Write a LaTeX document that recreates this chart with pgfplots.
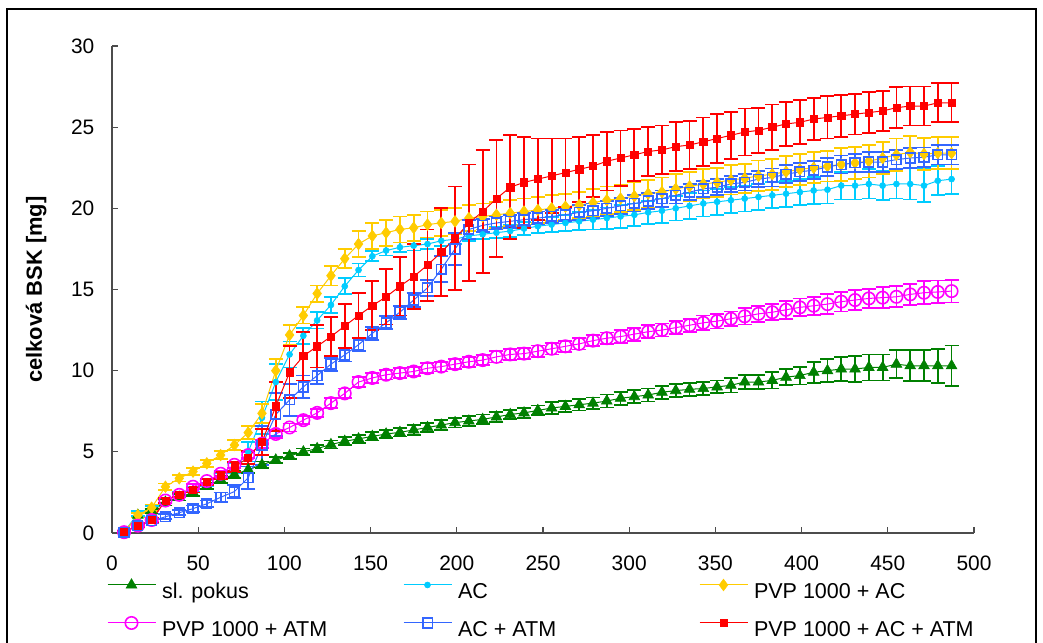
\documentclass[border=0pt]{standalone}
\usepackage{fontspec}
\setmainfont{Liberation Sans}
\usepackage{pgfplots}
\usepackage{pgfplotstable}
\pgfplotsset{compat=1.18}
\definecolor{cgreen}{RGB}{0,128,0}
\definecolor{ccyan}{RGB}{0,204,255}
\definecolor{cyellow}{RGB}{255,204,0}
\definecolor{cpink}{RGB}{255,0,255}
\definecolor{cblue}{RGB}{51,102,255}
\definecolor{cred}{RGB}{255,0,0}
\pgfplotstableread{
x y e
7 0.05 0.05
15 1.1 0.15
23 1.35 0.15
31 1.9 0.2
39 2.2 0.2
47 2.5 0.2
55 2.9 0.2
63 3.3 0.2
71 3.6 0.2
79 3.9 0.2
87 4.2 0.2
95 4.5 0.2
103 4.75 0.2
111 5.0 0.2
119 5.2 0.2
127 5.45 0.25
135 5.65 0.25
143 5.8 0.25
151 5.95 0.25
159 6.1 0.25
167 6.2 0.25
175 6.35 0.3
183 6.5 0.3
191 6.65 0.3
199 6.8 0.3
207 6.9 0.3
215 7.0 0.3
223 7.15 0.3
231 7.3 0.3
239 7.4 0.3
247 7.55 0.3
255 7.7 0.35
263 7.8 0.35
271 7.9 0.35
279 8.0 0.35
287 8.13 0.4
295 8.3 0.4
303 8.4 0.4
311 8.5 0.4
319 8.67 0.4
327 8.77 0.4
335 8.85 0.4
343 8.9 0.4
351 9.0 0.4
359 9.1 0.45
367 9.3 0.45
375 9.3 0.45
383 9.4 0.5
391 9.6 0.5
399 9.7 0.55
407 9.9 0.65
415 10.0 0.7
423 10.1 0.75
431 10.1 0.8
439 10.2 0.8
447 10.2 0.8
455 10.4 0.85
463 10.3 0.95
471 10.3 0.95
479 10.3 1.05
487 10.3 1.25
}\tgreen
\pgfplotstableread{
x y e
7 0.05 0.05
15 1.2 0.15
23 1.5 0.15
31 2.0 0.15
39 2.4 0.15
47 2.7 0.15
55 3.1 0.2
63 3.5 0.2
71 4.0 0.3
79 5.0 0.6
87 7.1 1.0
95 9.3 1.1
103 11.0 0.8
111 12.15 0.5
119 13.1 0.5
127 14.05 0.5
135 15.2 0.5
143 16.2 0.4
151 17.05 0.3
159 17.4 0.3
167 17.6 0.3
175 17.7 0.3
183 17.8 0.3
191 18.0 0.3
199 18.1 0.3
207 18.3 0.3
215 18.4 0.3
223 18.5 0.35
231 18.6 0.35
239 18.75 0.4
247 18.9 0.4
255 19.0 0.45
263 19.1 0.5
271 19.2 0.55
279 19.3 0.6
287 19.4 0.65
295 19.5 0.7
303 19.6 0.7
311 19.75 0.7
319 19.85 0.75
327 20.0 0.75
335 20.15 0.8
343 20.3 0.8
351 20.4 0.8
359 20.5 0.8
367 20.6 0.8
375 20.7 0.8
383 20.8 0.8
391 20.9 0.8
399 21.0 0.8
407 21.1 0.85
415 21.15 0.85
423 21.4 0.85
431 21.4 0.85
439 21.5 0.9
447 21.4 0.9
455 21.5 0.9
463 21.5 0.95
471 21.4 1.0
479 21.7 0.9
487 21.8 0.9
}\tcyan
\pgfplotstableread{
x y e
7 0.05 0.05
15 1.1 0.15
23 1.56 0.2
31 2.85 0.2
39 3.37 0.2
47 3.78 0.2
55 4.29 0.2
63 4.8 0.25
71 5.42 0.3
79 6.18 0.4
87 7.37 0.6
95 10.0 0.7
103 12.2 0.6
111 13.4 0.5
119 14.75 0.5
127 15.85 0.6
135 16.9 0.6
143 17.8 0.8
151 18.3 0.8
159 18.5 0.8
167 18.7 0.8
175 18.8 0.8
183 19.0 0.8
191 19.1 0.8
199 19.2 0.8
207 19.4 0.8
215 19.5 0.8
223 19.6 0.8
231 19.7 0.8
239 19.8 0.8
247 19.9 0.8
255 20.0 0.8
263 20.1 0.8
271 20.2 0.8
279 20.35 0.85
287 20.5 0.85
295 20.6 0.85
303 20.75 0.85
311 20.9 0.85
319 21.0 0.9
327 21.2 0.9
335 21.35 0.9
343 21.5 0.9
351 21.6 0.9
359 21.75 0.9
367 21.85 0.9
375 22.0 0.95
383 22.1 0.95
391 22.25 0.95
399 22.4 0.95
407 22.5 0.95
415 22.6 0.95
423 22.7 1.0
431 22.8 1.0
439 22.9 1.0
447 23.1 1.0
455 23.3 1.0
463 23.45 1.0
471 23.35 1.0
479 23.4 1.0
487 23.4 1.0
}\tyellow
\pgfplotstableread{
x y e
7 0.05 0.05
15 0.45 0.1
23 0.8 0.1
31 2.0 0.15
39 2.35 0.15
47 2.85 0.15
55 3.2 0.15
63 3.65 0.2
71 4.2 0.2
79 4.8 0.2
87 5.5 0.25
95 6.1 0.25
103 6.5 0.25
111 6.95 0.25
119 7.4 0.25
127 8.0 0.3
135 8.6 0.3
143 9.3 0.3
151 9.55 0.3
159 9.75 0.3
167 9.85 0.3
175 9.95 0.3
183 10.15 0.3
191 10.25 0.3
199 10.4 0.3
207 10.55 0.3
215 10.65 0.3
223 10.85 0.35
231 11.0 0.35
239 11.05 0.35
247 11.2 0.35
255 11.35 0.35
263 11.5 0.35
271 11.65 0.35
279 11.85 0.35
287 12.0 0.35
295 12.1 0.4
303 12.25 0.4
311 12.4 0.4
319 12.5 0.4
327 12.65 0.4
335 12.8 0.4
343 12.95 0.45
351 13.05 0.45
359 13.2 0.45
367 13.35 0.5
375 13.5 0.5
383 13.6 0.5
391 13.75 0.55
399 13.9 0.55
407 14.0 0.55
415 14.1 0.6
423 14.25 0.6
431 14.35 0.6
439 14.45 0.6
447 14.5 0.65
455 14.55 0.65
463 14.7 0.65
471 14.8 0.7
479 14.85 0.7
487 14.9 0.7
}\tpink
\pgfplotstableread{
x y e
7 0.05 0.05
15 0.45 0.1
23 0.75 0.15
31 1.0 0.15
39 1.25 0.15
47 1.5 0.2
55 1.8 0.2
63 2.2 0.3
71 2.55 0.4
79 3.4 0.7
87 5.4 1.2
95 7.3 1.3
103 8.2 1.0
111 9.0 0.7
119 9.7 0.5
127 10.4 0.4
135 10.97 0.4
143 11.6 0.4
151 12.3 0.4
159 12.95 0.4
167 13.6 0.4
175 14.35 0.45
183 15.1 0.5
191 16.25 0.8
199 17.5 1.0
207 18.7 0.6
215 18.95 0.4
223 19.1 0.4
231 19.2 0.4
239 19.3 0.4
247 19.4 0.4
255 19.5 0.4
263 19.6 0.4
271 19.75 0.45
279 19.85 0.45
287 20.0 0.45
295 20.15 0.5
303 20.3 0.5
311 20.45 0.5
319 20.6 0.5
327 20.8 0.5
335 21.0 0.5
343 21.2 0.5
351 21.3 0.5
359 21.5 0.5
367 21.6 0.5
375 21.8 0.5
383 21.9 0.55
391 22.1 0.55
399 22.25 0.55
407 22.35 0.55
415 22.55 0.55
423 22.7 0.55
431 22.8 0.55
439 22.85 0.6
447 22.85 0.6
455 23.0 0.6
463 23.1 0.6
471 23.15 0.6
479 23.3 0.6
487 23.3 0.6
}\tblue
\pgfplotstableread{
x y e
7 0.05 0.05
15 0.45 0.1
23 0.8 0.15
31 2.0 0.15
39 2.35 0.15
47 2.65 0.15
55 3.15 0.2
63 3.55 0.2
71 4.05 0.3
79 4.65 0.4
87 5.6 0.8
95 7.8 1.5
103 9.9 1.6
111 10.9 1.5
119 11.5 1.3
127 12.1 1.2
135 12.75 1.35
143 13.4 1.4
151 14.0 1.5
159 14.55 1.7
167 15.2 1.8
175 15.8 2.0
183 16.5 2.2
191 17.3 2.7
199 18.15 3.2
207 19.1 3.6
215 19.8 3.8
223 20.6 3.6
231 21.3 3.2
239 21.6 2.8
247 21.8 2.5
255 22.0 2.3
263 22.2 2.1
271 22.4 2.0
279 22.6 1.9
287 22.9 1.8
295 23.1 1.7
303 23.3 1.6
311 23.5 1.5
319 23.6 1.5
327 23.8 1.5
335 23.9 1.5
343 24.1 1.5
351 24.3 1.5
359 24.5 1.45
367 24.7 1.45
375 24.8 1.4
383 25.0 1.4
391 25.2 1.35
399 25.3 1.35
407 25.5 1.3
415 25.6 1.3
423 25.7 1.3
431 25.8 1.25
439 25.9 1.25
447 26.0 1.25
455 26.2 1.25
463 26.3 1.2
471 26.3 1.2
479 26.5 1.2
487 26.5 1.2
}\tred
\begin{document}
\begin{tikzpicture}
\path[use as bounding box] (0,0) rectangle (521.5bp,321.5bp);
\draw[black, line width=0.6bp] (3.5bp,-10bp) rectangle (518bp,317bp);
\begin{axis}[
  at={(56bp,55bp)}, anchor=south west,
  scale only axis, width=431bp, height=243.5bp,
  xmin=0, xmax=500, ymin=0, ymax=30,
  xtick={0,50,...,500}, ytick={0,5,...,30},
  axis lines*=left,
  axis line style={black!70, line width=0.6bp},
  tick align=inside,
  major tick length=3.2bp,
  major tick style={black!70, line width=0.6bp},
  minor tick num=0,
  font=\fontsize{10.5}{12}\selectfont,
  /pgf/number format/assume math mode=true,
  ticklabel style={font=\fontsize{10.5}{12}\selectfont},
  xticklabel style={yshift=-8bp},
  yticklabel style={xshift=-5.3bp},
  ylabel={\bfseries celková BSK [mg]},
  every axis y label/.style={at={(axis description cs:-0.088,0.5)}, rotate=90, anchor=center, font=\fontsize{11}{13}\selectfont},
  clip=false,
  legend columns=3,
  legend cell align=left,
  legend style={at={(axis description cs:-0.0058,-0.0940)}, anchor=north west, draw=none, fill=none, inner sep=0pt, outer sep=0pt,
     nodes={inner sep=0pt, outer sep=0pt, text height=8bp, text depth=2bp, font=\fontsize{10.8}{13}\selectfont},
     row sep=7bp, column sep=0pt},
  /tikz/every odd column/.style={column sep=3bp},
  legend image code/.code={\draw[mark repeat=2,mark phase=2, line width=0.5bp] plot coordinates {(0bp,3.9bp) (12bp,3.9bp) (24bp,3.9bp)};},
  error bars/error bar style={line width=0.9bp},
  error bars/error mark options={rotate=90, mark size=3.5bp, line width=0.9bp},
]
\addplot[cgreen, line width=0.5bp, mark=triangle*, mark size=3.1bp, mark options={solid, fill=cgreen, line width=0.3bp},
  error bars/.cd, y dir=both, y explicit] table[x=x, y=y, y error=e] {\tgreen};
\addlegendentry{\makebox[120.5bp][l]{sl. pokus}}
\addplot[ccyan, line width=0.5bp, mark=*, mark size=1.5bp, mark options={solid, fill=ccyan, line width=0.3bp},
  error bars/.cd, y dir=both, y explicit] table[x=x, y=y, y error=e] {\tcyan};
\addlegendentry{\makebox[120.5bp][l]{AC}}
\addplot[cyellow, line width=0.5bp, mark=diamond*, mark size=2.9bp, mark options={solid, fill=cyellow, line width=0.3bp},
  error bars/.cd, y dir=both, y explicit] table[x=x, y=y, y error=e] {\tyellow};
\addlegendentry{PVP 1000 + AC}
\addplot[cpink, line width=0.5bp, mark=o, mark size=3.1bp, mark options={solid, fill=none, line width=0.8bp},
  error bars/.cd, y dir=both, y explicit] table[x=x, y=y, y error=e] {\tpink};
\addlegendentry{\makebox[120.5bp][l]{PVP 1000 + ATM}}
\addplot[cblue, line width=0.5bp, mark=square, mark size=2.4bp, mark options={solid, fill=none, line width=0.8bp},
  error bars/.cd, y dir=both, y explicit] table[x=x, y=y, y error=e] {\tblue};
\addlegendentry{\makebox[120.5bp][l]{AC + ATM}}
\addplot[cred, line width=0.5bp, mark=square*, mark size=1.8bp, mark options={solid, fill=cred, line width=0.3bp},
  error bars/.cd, y dir=both, y explicit] table[x=x, y=y, y error=e] {\tred};
\addlegendentry{PVP 1000 + AC + ATM}
\end{axis}
\end{tikzpicture}
\end{document}
